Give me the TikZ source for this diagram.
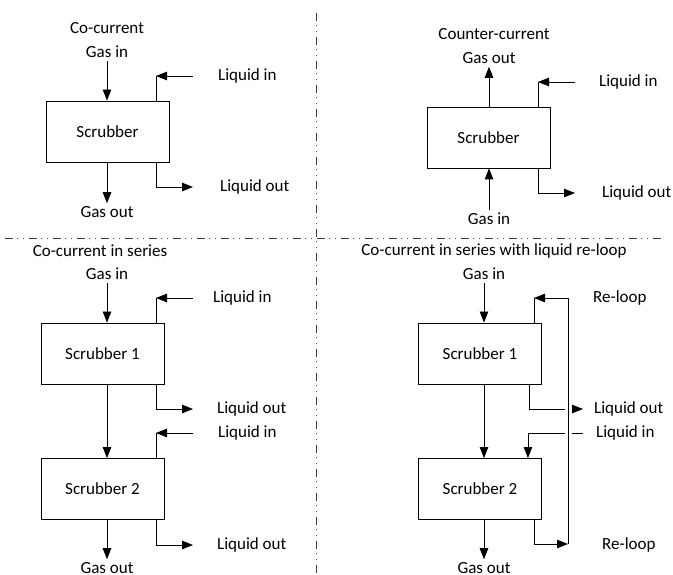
\documentclass[tikz,border=0pt]{standalone}
\usepackage{fontspec}
\setmainfont{Carlito}
\usetikzlibrary{arrows.meta,positioning}

\begin{document}
\begin{tikzpicture}[x=1pt,y=-1pt,font=\fontsize{17}{20}\selectfont,
    unit/.style={draw, line width=0.9pt, minimum width=123pt, minimum height=61pt, inner sep=0pt},
    pipe/.style={line width=0.9pt},
    flow/.style={line width=0.9pt, -{Triangle[length=11pt,width=8.5pt]}},
    lbl/.style={inner sep=3pt},
    tag/.style={inner sep=0pt, anchor=west},
    sep/.style={line width=0.9pt, black!75, dash pattern=on 8pt off 4pt on 1pt off 5pt on 1pt off 5pt},
    halo/.style={preaction={draw, white, line width=7pt, shorten <=6pt, shorten >=6pt}}]
    \useasboundingbox (0,0) rectangle (673,575);

    % separators
    \coordinate (hl) at (5,238);
    \coordinate (hr) at (661,238);
    \coordinate (vt) at (316,13);
    \coordinate (vb) at (316,575);
    \draw[sep] (hl) -- (hr);
    \draw[sep] (vt) -- (vb);

    % co-current
    \node[lbl] (ccT) at (107,28) {Co-current};
    \node[lbl] (ccGi) at (107,52) {Gas in};
    \node[unit] (cc) at (107.5,131.5) {Scrubber};
    \node[lbl] (ccGo) at (107,212) {Gas out};
    \node[tag] (ccLi) at (218,76) {Liquid in};
    \node[tag] (ccLo) at (220,187) {Liquid out};
    \coordinate (ccLiA) at (193,76);
    \coordinate (ccLiC) at (156,76);
    \coordinate (ccLoA) at (193,187);
    \draw[flow] (ccGi) -- (ccGi |- cc.north);
    \draw[flow] (ccGi |- cc.south) -- (ccGo);
    \draw[flow] (ccLiA) -- (ccLiC);
    \draw[pipe] (ccLiC) -- (ccLiC |- cc.north);
    \draw[flow] ([xshift=-13pt]cc.south east) |- (ccLoA);

    % counter-current
    \node[lbl] (ctT) at (494,34) {Counter-current};
    \node[lbl] (ctGo) at (489,58) {Gas out};
    \node[unit] (ct) at (488.5,137.5) {Scrubber};
    \node[lbl] (ctGi) at (489,219) {Gas in};
    \node[tag] (ctLi) at (599,82) {Liquid in};
    \node[tag] (ctLo) at (602,193) {Liquid out};
    \coordinate (ctLiA) at (575,82);
    \coordinate (ctLiC) at (538,82);
    \coordinate (ctLoA) at (575,193);
    \draw[flow] (ctGo |- ct.north) -- (ctGo);
    \draw[flow] (ctGi) -- (ctGi |- ct.south);
    \draw[flow] (ctLiA) -- (ctLiC);
    \draw[pipe] (ctLiC) -- (ctLiC |- ct.north);
    \draw[flow] ([xshift=-12pt]ct.south east) |- (ctLoA);

    % co-current in series
    \node[lbl] (csT) at (100,251) {Co-current in series};
    \node[lbl] (csGi) at (107,274) {Gas in};
    \node[unit] (cs1) at (102.5,353.5) {Scrubber 1};
    \node[unit] (cs2) at (102.5,489) {Scrubber 2};
    \node[lbl] (csGo) at (107,568) {Gas out};
    \node[tag] (csLi1) at (213,298) {Liquid in};
    \node[tag] (csLo1) at (217,409) {Liquid out};
    \node[tag] (csLi2) at (218,433) {Liquid in};
    \node[tag] (csLo2) at (217,545) {Liquid out};
    \coordinate (csLiA1) at (193,298);
    \coordinate (csLiC1) at (156,298);
    \coordinate (csLoA1) at (193,409);
    \coordinate (csLiA2) at (193,433);
    \coordinate (csLiC2) at (156,433);
    \coordinate (csLoA2) at (193,545);
    \draw[flow] (csGi) -- (csGi |- cs1.north);
    \draw[flow] (csGi |- cs1.south) -- (csGi |- cs2.north);
    \draw[flow] (csGi |- cs2.south) -- (csGo);
    \draw[flow] (csLiA1) -- (csLiC1);
    \draw[pipe] (csLiC1) -- (csLiC1 |- cs1.north);
    \draw[flow] ([xshift=-8pt]cs1.south east) |- (csLoA1);
    \draw[flow] (csLiA2) -- (csLiC2);
    \draw[pipe] (csLiC2) -- (csLiC2 |- cs2.north);
    \draw[flow] ([xshift=-8pt]cs2.south east) |- (csLoA2);

    % co-current in series with re-loop
    \node[lbl] (rlT) at (494,251) {Co-current in series with liquid re-loop};
    \node[lbl] (rlGi) at (484,274) {Gas in};
    \node[unit] (rl1) at (480,353.5) {Scrubber 1};
    \node[unit] (rl2) at (480,489) {Scrubber 2};
    \node[lbl] (rlGo) at (484,568) {Gas out};
    \node[tag] (rlR1) at (593,298) {Re-loop};
    \node[tag] (rlLo) at (594,409) {Liquid out};
    \node[tag] (rlLi) at (596,433) {Liquid in};
    \node[tag] (rlR2) at (602,545) {Re-loop};
    \coordinate (rlTC) at (534,298);
    \coordinate (rlTR) at (568,298);
    \coordinate (rlBR) at (568,544);
    \coordinate (rlLoA) at (583,409);
    \coordinate (rlLiA) at (583,433);
    \draw[flow] (rlGi) -- (rlGi |- rl1.north);
    \draw[flow] (rlGi |- rl1.south) -- (rlGi |- rl2.north);
    \draw[flow] (rlGi |- rl2.south) -- (rlGo);
    \draw[flow] ([xshift=-13pt]rl1.south east) |- (rlLoA);
    \draw[flow] (rlLiA) -| ([xshift=-14pt]rl2.north east);
    \draw[flow] ([xshift=-8pt]rl2.south east) |- (rlBR);
    \draw[pipe, halo] (rlBR) -- (rlTR);
    \draw[flow] (rlTR) -- (rlTC);
    \draw[pipe] (rlTC) -- (rlTC |- rl1.north);
\end{tikzpicture}
\end{document}
